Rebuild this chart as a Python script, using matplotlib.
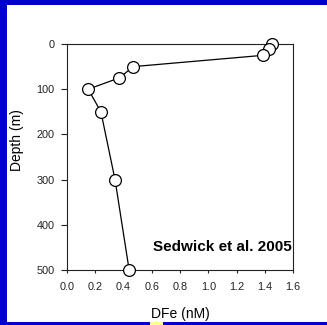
import matplotlib
matplotlib.use("Agg")
import matplotlib.pyplot as plt
from matplotlib.patches import Rectangle

# Dissolved iron profile
dfe_nM = [1.45, 1.43, 1.39, 0.47, 0.37, 0.15, 0.24, 0.34, 0.44]
depth_m = [0, 10, 25, 50, 75, 100, 150, 300, 500]
x_ticks = [0.0, 0.2, 0.4, 0.6, 0.8, 1.0, 1.2, 1.4, 1.6]
y_ticks = [0, 100, 200, 300, 400, 500]
citation = "Sedwick et al. 2005"

plt.rcParams['font.family'] = ['Liberation Sans', 'DejaVu Sans']

W, H = 327, 325
fig = plt.figure(figsize=(W / 100, H / 100), dpi=100)
fig.patch.set_facecolor('#0000CC')

# white panel inside the blue frame
fig.add_artist(Rectangle((7 / W, 3 / H), 1 - 7 / W, (320 - 3) / H,
                         transform=fig.transFigure, facecolor='white',
                         edgecolor='none', zorder=-1))
fig.add_artist(Rectangle((150 / W, 0), 13 / W, 3 / H,
                         transform=fig.transFigure, facecolor='#FFFF99',
                         edgecolor='none', zorder=-1))

ax = fig.add_axes([67 / W, (H - 270) / H, 226 / W, 226 / H])
ax.set_facecolor('white')
ax.plot(dfe_nM, depth_m, color='black', lw=0.9, marker='o', ms=8.5,
        mfc='white', mec='black', mew=0.9, clip_on=False, zorder=3)

ax.set_xlim(0, 1.6)
ax.set_ylim(500, 0)
ax.set_xticks(x_ticks)
ax.set_xticklabels([f"{v:.1f}" for v in x_ticks])
ax.set_yticks(y_ticks)
ax.tick_params(axis='x', direction='out', length=2.5, width=0.8, pad=6,
               labelsize=7.8, colors='#222222')
ax.tick_params(axis='y', direction='out', length=4, width=0.8, pad=5,
               labelsize=7.8, colors='#222222')
for s in ax.spines.values():
    s.set_linewidth(0.8)
    s.set_color('#222222')

ax.set_xlabel("DFe (nM)", fontsize=10, labelpad=11)
ax.set_ylabel("Depth (m)", fontsize=10)
ax.yaxis.set_label_coords(-0.19, 0.575)

ax.text(0.995, 0.10, citation, transform=ax.transAxes, ha='right',
        va='center', fontsize=11, fontweight='bold')

fig.savefig("out.png", dpi=100, facecolor=fig.get_facecolor())
